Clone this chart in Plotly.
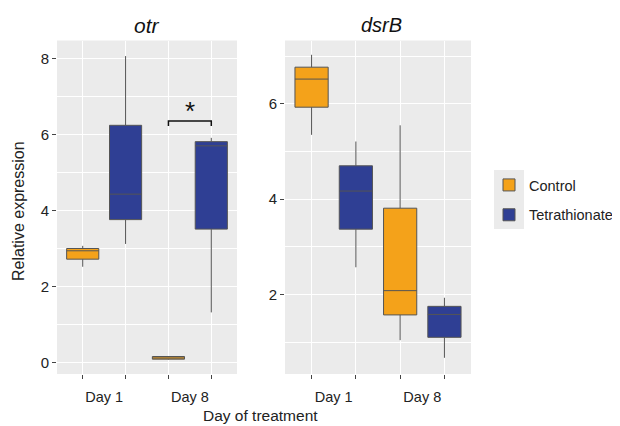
import plotly.graph_objects as go

# ---------------- data ----------------
groups = ["Control", "Tetrathionate"]
days = ["Day 1", "Day 8"]
positions = {"Control": [1, 3], "Tetrathionate": [2, 4]}

# otr panel: [Day1, Day8]
otr_low = {"Control": [2.52, 0.08], "Tetrathionate": [3.12, 1.32]}
otr_q1 = {"Control": [2.72, 0.09], "Tetrathionate": [3.76, 3.51]}
otr_med = {"Control": [2.94, 0.12], "Tetrathionate": [4.43, 5.70]}
otr_q3 = {"Control": [3.00, 0.16], "Tetrathionate": [6.24, 5.81]}
otr_high = {"Control": [3.07, 0.17], "Tetrathionate": [8.06, 5.91]}

# dsrB panel
dsr_low = {"Control": [5.35, 1.04], "Tetrathionate": [2.57, 0.67]}
dsr_q1 = {"Control": [5.93, 1.57], "Tetrathionate": [3.37, 1.10]}
dsr_med = {"Control": [6.52, 2.08], "Tetrathionate": [4.17, 1.58]}
dsr_q3 = {"Control": [6.77, 3.81], "Tetrathionate": [4.70, 1.75]}
dsr_high = {"Control": [7.03, 5.55], "Tetrathionate": [5.21, 1.93]}

# significance bracket on otr Day 8
sig_x = [3, 4]
sig_y = 6.35
sig_drop = 6.22
sig_label = "*"

colors = {"Control": "#F4A21A", "Tetrathionate": "#2F3F94"}

# page body has an 8px margin: compensate
OX, OY = 8, 8
W, H = 620 - OX, 426 - OY


def px(x):
    return (x - OX) / W


def py(y):
    return 1 - (y - OY) / H


fig = go.Figure()

for g in groups:
    fig.add_trace(go.Box(
        x=positions[g], q1=otr_q1[g], median=otr_med[g], q3=otr_q3[g],
        lowerfence=otr_low[g], upperfence=otr_high[g],
        name=g, legendgroup=g, showlegend=True,
        fillcolor=colors[g], line=dict(color="#555555", width=1),
        whiskerwidth=0, width=0.75, boxpoints=False,
        xaxis="x", yaxis="y", hoverinfo="skip",
    ))
    fig.add_trace(go.Box(
        x=positions[g], q1=dsr_q1[g], median=dsr_med[g], q3=dsr_q3[g],
        lowerfence=dsr_low[g], upperfence=dsr_high[g],
        name=g, legendgroup=g, showlegend=False,
        fillcolor=colors[g], line=dict(color="#555555", width=1),
        whiskerwidth=0, width=0.75, boxpoints=False,
        xaxis="x2", yaxis="y2", hoverinfo="skip",
    ))

font_family = "Liberation Sans, Arial, sans-serif"

xcommon = dict(
    range=[0.4, 4.6], tickmode="array", tickvals=[1.5, 3.5], ticktext=days,
    showgrid=False, ticks="outside", ticklen=10, tickcolor="rgba(0,0,0,0)",
    zeroline=False, showline=False, automargin=False,
    tickfont=dict(size=14.5, color="#222222", family=font_family),
    minor=dict(tickmode="array", tickvals=[1, 2, 3, 4], showgrid=True,
               gridcolor="white", gridwidth=1.3, ticks="outside",
               ticklen=4, tickcolor="#444444", tickwidth=1),
    fixedrange=True,
)
ycommon = dict(
    showgrid=True, gridcolor="white", gridwidth=1.3, zeroline=False,
    ticks="outside", ticklen=4, tickcolor="#444444", showline=False, automargin=False,
    tickfont=dict(size=15, color="#222222", family=font_family),
    minor=dict(dtick=1, showgrid=True, gridcolor="white", gridwidth=0.6),
    dtick=2, fixedrange=True,
)

ydom = [py(374), py(40.5)]

fig.update_layout(
    width=W, height=H,
    margin=dict(l=0, r=0, t=0, b=0),
    paper_bgcolor="white", plot_bgcolor="#EBEBEB",
    boxmode="overlay",
    font=dict(family=font_family, color="#222222"),
    xaxis=dict(domain=[px(57), px(237)], anchor="y", **xcommon),
    yaxis=dict(domain=ydom, anchor="x", range=[-0.30, 8.47], tick0=0, **ycommon),
    xaxis2=dict(domain=[px(285), px(471)], anchor="y2", **xcommon),
    yaxis2=dict(domain=ydom, anchor="x2", range=[0.33, 7.33], tick0=0, **ycommon),
    legend=dict(x=px(489), y=py(169), xanchor="left", yanchor="top",
                font=dict(size=14.5, color="#222222", family=font_family),
                tracegroupgap=8, bgcolor="rgba(0,0,0,0)"),
    showlegend=True,
)

# legend key background
fig.add_shape(type="rect", xref="paper", yref="paper",
              x0=px(494), x1=px(524), y0=py(229), y1=py(170),
              fillcolor="#EBEBEB", line=dict(width=0), layer="below")

ann = dict(xref="paper", yref="paper", showarrow=False, xanchor="center", yanchor="middle")
# panel titles
fig.add_annotation(text="<i>otr</i>", x=px(147), y=py(25),
                   font=dict(size=21, color="#111111"), **ann)
fig.add_annotation(text="<i>dsrB</i>", x=px(381), y=py(25),
                   font=dict(size=20, color="#111111"), **ann)
# axis titles
fig.add_annotation(text="Relative expression", x=px(18), y=py(211), textangle=-90,
                   font=dict(size=16, color="#222222"), **ann)
fig.add_annotation(text="Day of treatment", x=px(260), y=py(415),
                   font=dict(size=15.5, color="#222222"), **ann)

# significance bracket
fig.add_shape(type="path", xref="x", yref="y",
              path=f"M {sig_x[0]},{sig_drop} L {sig_x[0]},{sig_y} L {sig_x[1]},{sig_y} L {sig_x[1]},{sig_drop}",
              line=dict(color="#111111", width=1.5))
fig.add_annotation(text=sig_label, x=sum(sig_x) / 2, y=sig_y, xref="x", yref="y",
                   xanchor="center", yanchor="bottom", showarrow=False, yshift=-7,
                   font=dict(size=26, color="#111111"))

fig.write_html("out.html")
